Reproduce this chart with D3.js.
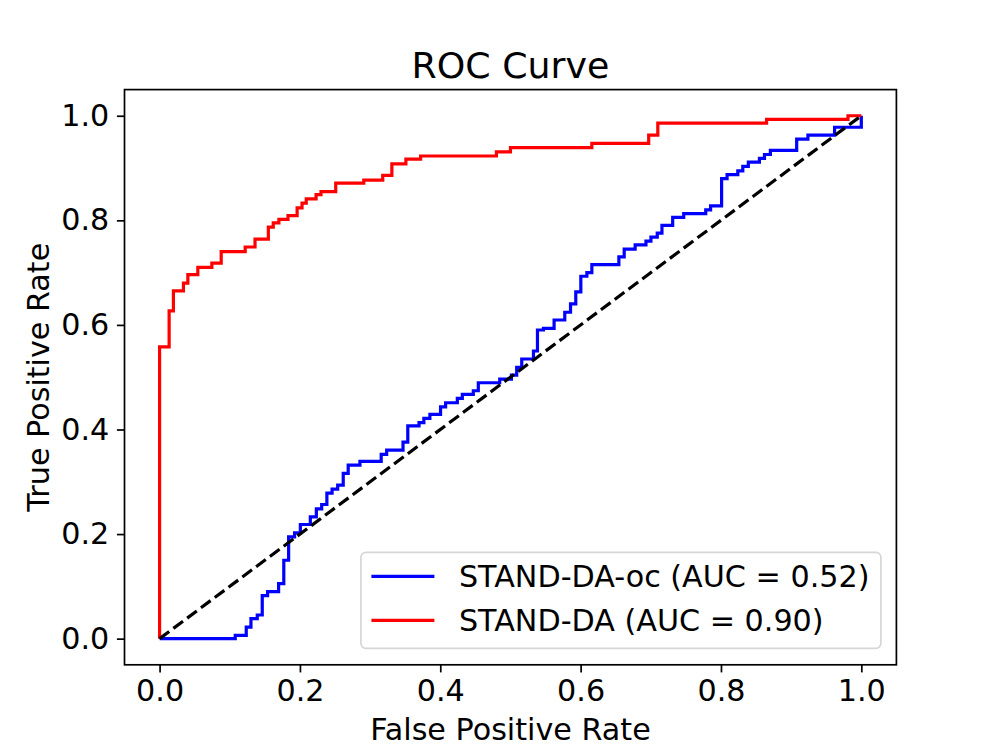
<!DOCTYPE html>
<html>
<head>
<meta charset="utf-8">
<script src="https://cdn.jsdelivr.net/npm/d3@7"></script>
<style>
  body { margin: 0; background: #fff; }
  svg { display: block; font-family: "DejaVu Sans", sans-serif; }
</style>
</head>
<body>
<svg id="chart" width="996" height="747"></svg>
<script>
// ROC corner points (fpr, tpr)
const standDaOcFpr = [0, 0.1078, 0.1235, 0.1302, 0.1392, 0.1463, 0.1539, 0.1696, 0.1770, 0.1839,
  0.1924, 0.2006, 0.2148, 0.2234, 0.2310, 0.2384, 0.2458, 0.2538, 0.2617, 0.2688,
  0.2855, 0.3158, 0.3236, 0.3469, 0.3537, 0.3697, 0.3766, 0.3852, 0.4004, 0.4076,
  0.4243, 0.4314, 0.4471, 0.4542, 0.4847, 0.5014, 0.5089, 0.5161, 0.5328, 0.5385,
  0.5470, 0.5622, 0.5774, 0.5856, 0.5931, 0.6003, 0.6089, 0.6160, 0.6545, 0.6621,
  0.6777, 0.6931, 0.7002, 0.7092, 0.7159, 0.7312, 0.7469, 0.7783, 0.7852, 0.8009,
  0.8087, 0.8240, 0.8311, 0.8390, 0.8548, 0.8620, 0.8704, 0.9079, 0.9239, 0.9619, 1.0];
const standDaOcTpr = [0, 0.0063, 0.0222, 0.0383, 0.0452, 0.0823, 0.0900, 0.1053, 0.1499, 0.1945,
  0.2022, 0.2183, 0.2328, 0.2481, 0.2566, 0.2782, 0.2859, 0.2935, 0.3159, 0.3318,
  0.3389, 0.3525, 0.3605, 0.3758, 0.4069, 0.4132, 0.4212, 0.4289, 0.4434, 0.4511,
  0.4595, 0.4672, 0.4741, 0.4894, 0.4965, 0.5041, 0.5189, 0.5348, 0.5501, 0.5903,
  0.5935, 0.6094, 0.6242, 0.6401, 0.6630, 0.6931, 0.6998, 0.7153, 0.7300, 0.7448,
  0.7530, 0.7601, 0.7678, 0.7754, 0.7904, 0.8057, 0.8130, 0.8200, 0.8276, 0.8798,
  0.8874, 0.8947, 0.9033, 0.9114, 0.9186, 0.9259, 0.9336, 0.9554, 0.9630, 0.9780, 1.0];

const standDaFpr = [0, 0, 0.0136, 0.0197, 0.034, 0.0403, 0.0545, 0.0745, 0.0878, 0.122,
  0.136, 0.155, 0.162, 0.170, 0.183, 0.196, 0.203, 0.209, 0.223, 0.230,
  0.251, 0.291, 0.318, 0.331, 0.351, 0.372, 0.480, 0.500, 0.616, 0.697,
  0.710, 0.865, 0.981, 1.0];
const standDaTpr = [0, 0.558, 0.627, 0.665, 0.680, 0.696, 0.710, 0.718, 0.740, 0.749,
  0.764, 0.787, 0.795, 0.802, 0.809, 0.824, 0.833, 0.841, 0.849, 0.855,
  0.871, 0.877, 0.886, 0.908, 0.917, 0.923, 0.931, 0.939, 0.947, 0.963,
  0.986, 0.993, 1.0, 1.0];

const seriesNames = ["STAND-DA-oc (AUC = 0.52)", "STAND-DA (AUC = 0.90)"];
const seriesColors = ["#0000ff", "#ff0000"];
const tickValues = [0, 0.2, 0.4, 0.6, 0.8, 1.0];

const W = 996, H = 747;
const margin = {left: 124.5, right: W - 896.4, top: 89.6, bottom: H - 664.8};
const fs = 30.2;

const svg = d3.select('#chart');
const x = d3.scaleLinear().domain([-0.05, 1.05]).range([margin.left, W - margin.right]);
const y = d3.scaleLinear().domain([-0.05, 1.05]).range([H - margin.bottom, margin.top]);

const series = [
  {name: seriesNames[0], color: seriesColors[0], pts: standDaOcFpr.map((f, i) => [f, standDaOcTpr[i]])},
  {name: seriesNames[1], color: seriesColors[1], pts: standDaFpr.map((f, i) => [f, standDaTpr[i]])}
];

const line = d3.line()
  .x(d => x(d[0]))
  .y(d => y(d[1]))
  .curve(d3.curveStepAfter);

svg.append('g').attr('class', 'curves')
  .selectAll('path')
  .data(series)
  .join('path')
  .attr('fill', 'none')
  .attr('stroke', d => d.color)
  .attr('stroke-width', 3.2)
  .attr('stroke-linejoin', 'miter')
  .attr('d', d => line(d.pts));

// chance line
svg.append('path')
  .attr('fill', 'none')
  .attr('stroke', '#000')
  .attr('stroke-width', 3.2)
  .attr('stroke-dasharray', '12,5.2')
  .attr('d', d3.line().x(d => x(d[0])).y(d => y(d[1]))([[0, 0], [1, 1]]));

// axes
const xAxis = d3.axisBottom(x).tickValues(tickValues).tickFormat(d3.format('.1f'))
  .tickSize(7.6).tickPadding(7.6);
const yAxis = d3.axisLeft(y).tickValues(tickValues).tickFormat(d3.format('.1f'))
  .tickSize(7.6).tickPadding(7.6);

const gx = svg.append('g').attr('transform', `translate(0,${H - margin.bottom})`).call(xAxis);
const gy = svg.append('g').attr('transform', `translate(${margin.left},0)`).call(yAxis);
[gx, gy].forEach(g => {
  g.select('.domain').remove();
  g.selectAll('.tick line').attr('stroke', '#000').attr('stroke-width', 1.7);
  g.selectAll('.tick text').attr('fill', '#000')
    .style('font-family', '"DejaVu Sans", sans-serif').style('font-size', fs + 'px');
});

// frame
svg.append('rect')
  .attr('x', margin.left).attr('y', margin.top)
  .attr('width', W - margin.left - margin.right)
  .attr('height', H - margin.top - margin.bottom)
  .attr('fill', 'none').attr('stroke', '#000').attr('stroke-width', 1.7);

// title and labels
svg.append('text')
  .attr('x', (margin.left + W - margin.right) / 2).attr('y', 78)
  .attr('text-anchor', 'middle').style('font-size', '36.3px')
  .text('ROC Curve');

svg.append('text')
  .attr('x', (margin.left + W - margin.right) / 2).attr('y', 740)
  .attr('text-anchor', 'middle').style('font-size', fs + 'px')
  .text('False Positive Rate');

svg.append('text')
  .attr('transform', `translate(49,${(margin.top + H - margin.bottom) / 2}) rotate(-90)`)
  .attr('text-anchor', 'middle').style('font-size', fs + 'px')
  .text('True Positive Rate');

// legend, lower right
const legW = 520, legH = 96;
const legX = W - margin.right - 15.5 - legW, legY = H - margin.bottom - 16.5 - legH;
const leg = svg.append('g').attr('transform', `translate(${legX},${legY})`);
leg.append('rect')
  .attr('width', legW).attr('height', legH).attr('rx', 5)
  .attr('fill', '#fff').attr('fill-opacity', 0.8)
  .attr('stroke', '#d6d6d6').attr('stroke-width', 1.7);
const items = leg.selectAll('g.item').data(series).join('g')
  .attr('class', 'item')
  .attr('transform', (d, i) => `translate(0,${24 + i * 44})`);
items.append('line')
  .attr('x1', 10.5).attr('x2', 73.5).attr('y1', 0).attr('y2', 0)
  .attr('stroke', d => d.color).attr('stroke-width', 3.2);
items.append('text')
  .attr('x', 98).attr('y', 0).attr('dy', '0.35em')
  .style('font-size', fs + 'px')
  .text(d => d.name);
</script>
</body>
</html>
